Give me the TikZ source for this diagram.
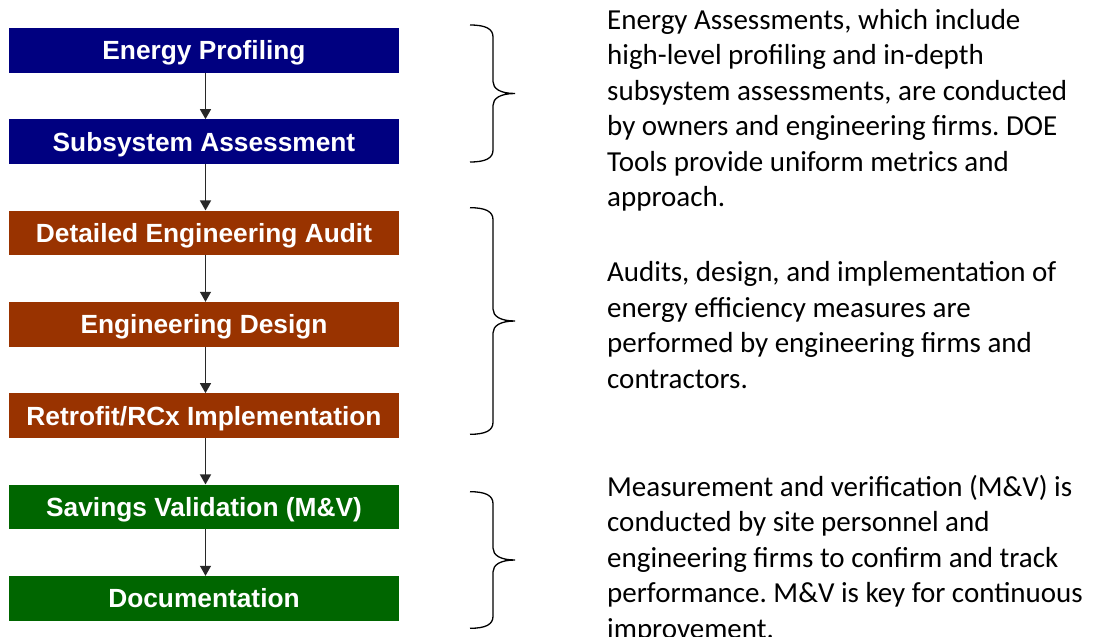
\documentclass[tikz,border=0pt]{standalone}
\usepackage{fontspec}
\setmainfont{Liberation Sans}
\newfontfamily\bodyfont{Carlito}
\usetikzlibrary{arrows.meta}
\definecolor{navyB}{RGB}{0,0,128}
\definecolor{brownB}{RGB}{153,51,0}
\definecolor{greenB}{RGB}{0,102,0}
\definecolor{arrowgray}{RGB}{40,40,40}
\tikzset{
  stepbox/.style={fill=#1, draw=none, minimum width=390pt, minimum height=44.5pt,
    inner sep=0pt, text=white, font=\fontsize{26.3}{30}\selectfont\bfseries,
    text height=18.8pt, text depth=0pt, anchor=center},
  flow/.style={draw=arrowgray, line width=1.3pt, -{Triangle[length=10pt,width=11pt]}},
  bracecurve/.style={draw=black, line width=1.3pt},
  desc/.style={anchor=base west, inner sep=0pt}
}
\newcommand{\descpar}[1]{\parbox[t]{480pt}{\bodyfont\fontsize{29}{35.5}\selectfont\frenchspacing\raggedright #1}}
\newcommand{\sidebrace}[3]{%
  \draw[bracecurve] (470,#1) .. controls (486,#1) and (493,{#1+4}) .. (493,{#1+12})
    -- (493,{#2-12}) .. controls (493,{#2-5}) and (500,#2) .. (515,#2)
    .. controls (500,#2) and (493,{#2+5}) .. (493,{#2+12})
    -- (493,{#3-12}) .. controls (493,{#3-4}) and (486,#3) .. (470,#3);}
\begin{document}
\begin{tikzpicture}[x=1pt,y=-1pt]
\useasboundingbox (0,0) rectangle (1096,637);
\clip (0,0) rectangle (1096,637);
\fill[white] (0,0) rectangle (1096,637);

\node[stepbox=navyB]  (ep) at (204,50.25) {Energy Profiling};
\node[stepbox=navyB]  (sa) at (204,141.6) {Subsystem Assessment};
\node[stepbox=brownB] (da) at (204,232.9) {Detailed Engineering Audit};
\node[stepbox=brownB] (ed) at (204,324.25) {Engineering Design};
\node[stepbox=brownB] (ri) at (204,415.6) {Retrofit/RCx Implementation};
\node[stepbox=greenB] (sv) at (204,506.9) {Savings Validation (M\&V)};
\node[stepbox=greenB] (dc) at (204,598.25) {Documentation};

\foreach \a/\b in {ep/sa, sa/da, da/ed, ed/ri, ri/sv, sv/dc}
  \draw[flow] ([xshift=1.5pt]\a.south) -- ([xshift=1.5pt]\b.north);

\sidebrace{25}{93.5}{162}
\sidebrace{207.7}{321}{434.3}
\sidebrace{491.7}{560}{628.3}

\node[desc] (t1) at (607,29.3) {\descpar{Energy Assessments, which include\\
high-level profiling and in-depth\\
subsystem assessments, are conducted\\
by owners and engineering firms. DOE\\
Tools provide uniform metrics and\\
approach.}};
\node[desc] (t2) at (607,281.7) {\descpar{Audits, design, and implementation of\\
energy efficiency measures are\\
performed by engineering firms and\\
contractors.}};
\node[desc] (t3) at (607,496) {\descpar{Measurement and verification (M\&V) is\\
conducted by site personnel and\\
engineering firms to confirm and track\\
performance. M\&V is key for continuous\\
improvement.}};
\end{tikzpicture}
\end{document}
